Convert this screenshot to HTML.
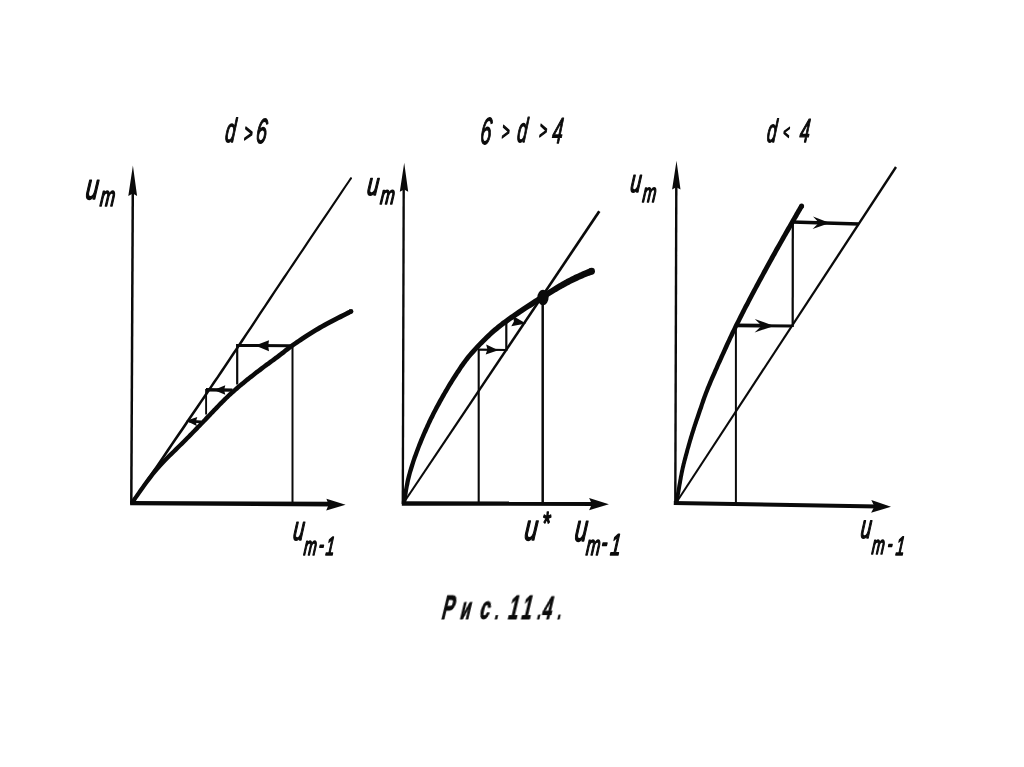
<!DOCTYPE html>
<html lang="ru"><head><meta charset="utf-8"><title>Рис. 11.4.</title>
<style>
html,body{margin:0;padding:0;background:#fff;}
body{width:1024px;height:767px;overflow:hidden;}
svg{display:block;}
svg text{font-family:"Liberation Sans",sans-serif;fill:#0a0a0a;stroke:#0a0a0a;stroke-linejoin:round;}
</style></head><body>
<svg width="1024" height="767" viewBox="0 0 1024 767">
<rect width="1024" height="767" fill="#ffffff"/>
<g stroke="#0a0a0a" fill="none" stroke-linecap="butt">
<line x1="131.3" y1="504.0" x2="132.8" y2="190.0" stroke-width="2.50" />
<polygon fill="#0a0a0a" stroke="none" points="132.9,165.5 137.1,196.0 132.8,193.6 128.3,196.0"/>
<polygon fill="#0a0a0a" stroke="none" points="130.1,501.1 333,501.8 333,506.6 130.1,505.3"/>
<polygon fill="#0a0a0a" stroke="none" points="345.6,504.8 326.2,510.5 328.6,504.7 326.4,498.7"/>
<polygon fill="#0a0a0a" stroke="none" points="133.1,503.8 135.0,501.0 137.4,497.5 140.1,493.5 143.1,489.0 146.5,484.2 150.0,479.0 153.7,473.5 157.5,467.9 161.4,462.1 165.3,456.4 169.2,450.7 173.0,445.1 176.6,439.8 180.1,434.7 183.4,429.9 186.6,425.2 189.7,420.6 192.8,416.0 195.9,411.5 199.0,406.9 202.1,402.3 205.3,397.7 208.5,393.0 211.8,388.1 215.2,383.0 218.8,377.8 222.4,372.4 226.2,366.7 230.2,360.7 234.4,354.5 238.7,348.1 243.1,341.4 247.6,334.6 252.2,327.7 256.8,320.7 261.5,313.6 266.2,306.5 270.9,299.4 275.6,292.3 280.3,285.3 284.9,278.4 289.4,271.6 294.1,264.7 298.9,257.4 304.0,249.9 309.1,242.2 314.3,234.5 319.5,226.8 324.6,219.3 329.5,211.9 334.2,205.0 338.6,198.5 342.6,192.5 346.2,187.1 349.3,182.5 351.8,178.8 350.2,177.6 347.6,181.4 344.5,186.0 340.9,191.3 336.9,197.3 332.5,203.8 327.8,210.8 322.8,218.1 317.7,225.6 312.5,233.3 307.3,241.0 302.2,248.7 297.1,256.2 292.2,263.5 287.6,270.4 283.0,277.1 278.4,284.1 273.7,291.1 269.0,298.1 264.3,305.2 259.5,312.3 254.8,319.4 250.2,326.4 245.6,333.3 241.0,340.1 236.6,346.7 232.3,353.1 228.2,359.3 224.2,365.3 220.3,371.0 216.7,376.4 213.1,381.6 209.7,386.7 206.4,391.5 203.2,396.3 200.0,400.9 196.9,405.5 193.8,410.0 190.7,414.6 187.6,419.1 184.4,423.7 181.2,428.4 177.9,433.3 174.5,438.3 170.8,443.7 167.0,449.2 163.2,454.9 159.3,460.7 155.4,466.4 151.5,472.0 147.8,477.5 144.2,482.7 140.9,487.5 137.9,492.0 135.1,496.0 132.8,499.4 130.9,502.2"/><circle fill="#0a0a0a" stroke="none" cx="351.0" cy="178.2" r="1.00"/>
<polygon fill="#0a0a0a" stroke="none" points="134.0,503.5 135.0,502.2 136.2,500.5 137.5,498.6 139.0,496.4 140.7,494.1 142.5,491.6 144.3,489.0 146.2,486.3 148.2,483.6 150.2,480.9 152.3,478.2 154.3,475.6 156.2,473.2 158.1,470.9 160.1,468.7 162.1,466.5 164.2,464.2 166.3,462.0 168.5,459.8 170.7,457.6 172.9,455.4 175.1,453.3 177.3,451.2 179.4,449.1 181.4,447.1 183.4,445.2 185.3,443.3 187.1,441.5 188.7,439.8 190.3,438.2 191.8,436.7 193.2,435.2 194.6,433.8 195.9,432.5 197.2,431.2 198.5,429.9 199.7,428.6 200.8,427.4 202.0,426.3 203.1,425.1 204.2,424.0 205.3,422.8 206.4,421.7 207.4,420.7 208.3,419.7 209.3,418.7 210.1,417.8 211.0,416.9 211.8,416.0 212.7,415.1 213.5,414.2 214.3,413.4 215.1,412.5 215.9,411.7 216.8,410.8 217.7,409.9 218.6,408.9 219.5,408.0 220.4,407.1 221.3,406.1 222.2,405.2 223.2,404.3 224.1,403.3 225.0,402.4 225.9,401.5 226.9,400.5 227.8,399.6 228.8,398.7 229.7,397.8 230.7,396.8 231.7,395.9 232.7,395.0 233.8,394.1 234.8,393.2 235.8,392.2 236.9,391.3 238.0,390.4 239.0,389.5 240.1,388.6 241.2,387.6 242.3,386.7 243.4,385.8 244.5,384.9 245.6,384.0 246.8,383.0 247.9,382.1 249.1,381.2 250.2,380.2 251.4,379.3 252.6,378.4 253.8,377.4 255.0,376.5 256.2,375.6 257.4,374.6 258.6,373.7 259.8,372.8 261.1,371.9 262.3,370.9 263.5,370.0 264.7,369.1 266.0,368.1 267.2,367.2 268.5,366.3 269.8,365.4 271.0,364.4 272.3,363.5 273.6,362.6 274.9,361.7 276.1,360.7 277.4,359.8 278.6,358.9 279.9,357.9 281.1,357.0 282.3,356.1 283.4,355.2 284.5,354.4 285.6,353.5 286.7,352.6 287.8,351.8 288.9,350.9 290.1,350.0 291.3,349.1 292.5,348.2 293.8,347.2 295.2,346.2 296.7,345.2 298.3,344.2 300.0,343.0 301.7,341.9 303.5,340.7 305.4,339.5 307.3,338.3 309.2,337.0 311.2,335.8 313.2,334.5 315.2,333.3 317.2,332.1 319.2,330.9 321.2,329.7 323.2,328.6 325.2,327.4 327.4,326.2 329.7,325.0 332.1,323.7 334.5,322.5 336.9,321.2 339.2,320.0 341.6,318.9 343.8,317.7 345.8,316.7 347.7,315.7 349.4,314.9 350.9,314.1 352.1,313.5 349.9,309.3 348.7,309.9 347.3,310.6 345.6,311.5 343.7,312.4 341.6,313.5 339.4,314.6 337.1,315.8 334.7,317.0 332.3,318.3 329.9,319.5 327.5,320.8 325.1,322.0 322.9,323.3 320.8,324.4 318.8,325.6 316.8,326.8 314.7,328.0 312.7,329.3 310.7,330.5 308.7,331.8 306.7,333.1 304.7,334.3 302.8,335.6 300.9,336.8 299.1,338.0 297.4,339.2 295.7,340.3 294.1,341.4 292.6,342.4 291.1,343.4 289.8,344.4 288.5,345.4 287.3,346.3 286.1,347.2 285.0,348.1 283.8,349.0 282.7,349.9 281.7,350.7 280.6,351.6 279.4,352.5 278.3,353.3 277.1,354.3 275.9,355.2 274.6,356.1 273.4,357.0 272.1,357.9 270.9,358.9 269.6,359.8 268.3,360.7 267.1,361.7 265.8,362.6 264.5,363.5 263.3,364.5 262.0,365.4 260.8,366.3 259.5,367.3 258.3,368.2 257.1,369.2 255.8,370.1 254.6,371.0 253.4,372.0 252.2,372.9 251.0,373.9 249.8,374.8 248.6,375.7 247.4,376.7 246.2,377.6 245.1,378.6 243.9,379.5 242.8,380.4 241.6,381.4 240.5,382.3 239.4,383.3 238.3,384.2 237.2,385.1 236.1,386.1 235.0,387.0 233.9,387.9 232.9,388.9 231.8,389.8 230.8,390.7 229.7,391.7 228.7,392.6 227.7,393.6 226.7,394.5 225.7,395.4 224.7,396.4 223.7,397.3 222.8,398.3 221.8,399.2 220.9,400.2 220.0,401.1 219.0,402.1 218.1,403.0 217.2,403.9 216.3,404.9 215.4,405.8 214.5,406.7 213.6,407.7 212.7,408.6 211.9,409.5 211.1,410.3 210.2,411.2 209.4,412.1 208.6,412.9 207.8,413.8 206.9,414.7 206.0,415.6 205.1,416.6 204.2,417.6 203.2,418.7 202.1,419.8 201.0,420.9 199.9,422.0 198.8,423.2 197.7,424.4 196.5,425.6 195.3,426.8 194.1,428.1 192.8,429.4 191.5,430.8 190.1,432.2 188.7,433.6 187.2,435.2 185.6,436.8 183.9,438.5 182.2,440.2 180.4,442.1 178.4,444.0 176.3,446.0 174.2,448.0 172.1,450.2 169.9,452.3 167.6,454.5 165.4,456.8 163.2,459.0 161.0,461.3 158.9,463.6 156.8,465.8 154.9,468.1 152.9,470.5 150.9,473.0 148.9,475.6 146.8,478.3 144.8,481.1 142.8,483.8 140.9,486.5 139.0,489.1 137.2,491.7 135.6,494.0 134.1,496.2 132.7,498.1 131.6,499.7 130.6,501.1"/><circle fill="#0a0a0a" stroke="none" cx="351.0" cy="311.4" r="2.40"/>
<line x1="292.5" y1="345.0" x2="292.5" y2="503.0" stroke-width="2.00" />
<line x1="236.5" y1="345.5" x2="291.0" y2="345.7" stroke-width="3.10" />
<polygon fill="#0a0a0a" stroke="none" points="255.2,345.6 269.0,340.2 268.2,345.7 269.0,351.2"/>
<line x1="237.2" y1="344.0" x2="237.2" y2="384.5" stroke-width="2.20" />
<line x1="206.0" y1="389.8" x2="232.5" y2="390.1" stroke-width="3.40" />
<polygon fill="#0a0a0a" stroke="none" points="213.8,389.9 225.3,385.3 224.1,390.0 225.3,394.7"/>
<line x1="206.1" y1="389.0" x2="206.1" y2="414.5" stroke-width="1.90" />
<line x1="189.0" y1="421.2" x2="201.0" y2="421.8" stroke-width="2.80" />
<polygon fill="#0a0a0a" stroke="none" points="186.2,420.8 197.3,417.0 195.9,421.5 196.7,426.1"/>
<line x1="402.8" y1="504.0" x2="403.7" y2="188.0" stroke-width="2.35" />
<polygon fill="#0a0a0a" stroke="none" points="404.2,162.8 408.2,191.8 404.1,189.5 399.8,191.8"/>
<line x1="401.8" y1="503.5" x2="596.0" y2="503.8" stroke-width="4.40" />
<polygon fill="#0a0a0a" stroke="none" points="608.9,504.2 589.1,510.2 591.9,504.1 589.1,498.0"/>
<polygon fill="#0a0a0a" stroke="none" points="404.33,503.56 600.44,211.97 598.16,210.43 402.67,502.44"/>
<polygon fill="#0a0a0a" stroke="none" points="406.1,502.4 406.3,501.3 406.5,500.0 406.8,498.5 407.0,496.8 407.4,494.9 407.7,492.9 408.0,490.9 408.4,488.7 408.8,486.6 409.3,484.4 409.7,482.2 410.2,480.1 410.7,478.0 411.2,476.0 411.7,474.1 412.3,472.1 412.9,470.2 413.5,468.2 414.1,466.2 414.8,464.1 415.4,462.1 416.1,460.1 416.8,458.1 417.6,456.1 418.3,454.0 419.0,452.0 419.8,450.1 420.5,448.1 421.3,446.1 422.1,444.2 422.9,442.2 423.7,440.2 424.5,438.2 425.4,436.3 426.2,434.3 427.1,432.4 428.0,430.5 428.8,428.6 429.7,426.7 430.5,424.8 431.4,423.0 432.2,421.3 433.0,419.5 433.9,417.9 434.7,416.2 435.5,414.6 436.3,413.1 437.1,411.5 437.9,410.0 438.7,408.5 439.5,406.9 440.4,405.4 441.2,403.9 442.1,402.3 443.0,400.7 443.9,399.1 444.8,397.5 445.8,395.8 446.7,394.1 447.7,392.5 448.7,390.8 449.7,389.0 450.7,387.3 451.8,385.6 452.8,384.0 453.8,382.3 454.9,380.6 455.9,379.0 456.9,377.4 457.9,375.9 458.9,374.3 459.9,372.9 460.9,371.4 461.8,370.0 462.7,368.6 463.7,367.2 464.6,365.9 465.6,364.5 466.6,363.2 467.6,361.8 468.7,360.4 469.8,359.0 471.0,357.6 472.3,356.1 473.7,354.5 475.1,352.9 476.6,351.3 478.2,349.6 479.8,347.9 481.5,346.1 483.2,344.4 484.9,342.7 486.7,341.0 488.4,339.3 490.1,337.7 491.8,336.1 493.5,334.6 495.2,333.1 496.8,331.7 498.4,330.4 500.1,329.1 501.7,327.8 503.3,326.6 505.0,325.3 506.6,324.2 508.3,323.0 509.9,321.8 511.6,320.6 513.3,319.5 515.0,318.3 516.7,317.1 518.4,315.9 520.2,314.7 522.0,313.5 523.9,312.3 525.7,311.1 527.6,309.8 529.6,308.6 531.5,307.4 533.4,306.2 535.2,305.0 537.1,303.9 538.9,302.8 540.6,301.7 542.3,300.6 543.9,299.6 545.4,298.7 546.8,297.8 548.2,296.9 549.6,296.1 550.9,295.3 552.1,294.5 553.3,293.8 554.5,293.1 555.7,292.3 556.9,291.7 558.0,291.0 559.2,290.3 560.4,289.6 561.5,289.0 562.7,288.3 563.9,287.7 565.0,287.0 566.1,286.4 567.2,285.8 568.3,285.2 569.4,284.7 570.5,284.1 571.5,283.6 572.6,283.0 573.7,282.5 574.8,281.9 575.9,281.4 577.0,280.9 578.1,280.4 579.3,279.8 580.6,279.3 581.9,278.7 583.2,278.2 584.5,277.6 585.8,277.1 587.1,276.6 588.3,276.1 589.4,275.7 590.5,275.3 591.4,274.9 592.2,274.6 592.9,274.3 590.3,268.1 589.7,268.4 588.9,268.7 588.0,269.1 586.9,269.5 585.8,270.0 584.6,270.5 583.3,271.0 582.0,271.6 580.7,272.2 579.3,272.8 578.0,273.4 576.7,273.9 575.4,274.5 574.2,275.1 573.1,275.7 572.0,276.2 570.8,276.8 569.7,277.4 568.6,277.9 567.5,278.5 566.4,279.1 565.3,279.7 564.2,280.3 563.1,281.0 562.0,281.6 560.8,282.3 559.6,283.0 558.5,283.6 557.3,284.3 556.1,285.0 554.9,285.8 553.8,286.5 552.6,287.2 551.4,287.9 550.2,288.7 549.0,289.5 547.7,290.3 546.4,291.1 545.1,292.0 543.7,292.9 542.2,293.8 540.7,294.8 539.2,295.8 537.5,296.8 535.8,297.9 534.0,299.1 532.2,300.3 530.3,301.5 528.4,302.7 526.5,303.9 524.6,305.2 522.7,306.4 520.8,307.7 519.0,309.0 517.1,310.2 515.4,311.5 513.6,312.7 511.9,313.9 510.2,315.1 508.5,316.3 506.8,317.5 505.2,318.7 503.5,319.9 501.8,321.1 500.2,322.4 498.5,323.7 496.8,325.0 495.2,326.4 493.5,327.8 491.8,329.3 490.1,330.8 488.4,332.4 486.7,334.0 484.9,335.7 483.2,337.4 481.4,339.2 479.7,341.0 478.0,342.7 476.3,344.5 474.7,346.2 473.1,348.0 471.5,349.7 470.1,351.3 468.7,352.9 467.4,354.5 466.1,356.0 465.0,357.5 463.9,359.0 462.8,360.4 461.8,361.8 460.8,363.2 459.8,364.6 458.9,366.0 457.9,367.4 457.0,368.9 456.0,370.3 455.1,371.8 454.1,373.3 453.0,374.9 452.0,376.5 450.9,378.2 449.9,379.9 448.9,381.6 447.8,383.3 446.8,385.0 445.8,386.7 444.8,388.4 443.8,390.1 442.8,391.9 441.8,393.5 440.8,395.2 439.9,396.9 439.0,398.5 438.1,400.1 437.2,401.7 436.4,403.2 435.6,404.8 434.7,406.3 433.9,407.9 433.1,409.4 432.3,411.0 431.5,412.6 430.7,414.2 429.8,415.9 429.0,417.6 428.2,419.3 427.3,421.1 426.5,423.0 425.6,424.8 424.8,426.7 423.9,428.6 423.0,430.6 422.2,432.5 421.3,434.5 420.5,436.5 419.6,438.5 418.8,440.5 418.0,442.5 417.2,444.5 416.5,446.5 415.7,448.5 415.0,450.5 414.2,452.5 413.5,454.6 412.7,456.6 412.0,458.7 411.3,460.7 410.7,462.8 410.0,464.8 409.3,466.9 408.7,468.9 408.1,471.0 407.6,473.0 407.0,475.0 406.5,477.0 406.0,479.1 405.5,481.3 405.1,483.6 404.7,485.8 404.3,488.0 403.9,490.1 403.5,492.2 403.2,494.2 402.9,496.1 402.6,497.8 402.3,499.3 402.1,500.6 401.9,501.6"/><circle fill="#0a0a0a" stroke="none" cx="591.6" cy="271.2" r="3.35"/>
<ellipse fill="#0a0a0a" stroke="none" cx="543" cy="297.5" rx="5.6" ry="7.8"/>
<line x1="542.7" y1="297.0" x2="542.7" y2="503.0" stroke-width="2.50" />
<line x1="478.7" y1="349.0" x2="478.7" y2="503.0" stroke-width="2.10" />
<line x1="478.0" y1="349.6" x2="506.5" y2="350.0" stroke-width="2.20" />
<polygon fill="#0a0a0a" stroke="none" points="498.3,350.2 485.7,354.6 487.4,349.6 486.2,344.5"/>
<line x1="506.3" y1="321.0" x2="506.3" y2="351.0" stroke-width="2.20" />
<polygon fill="#0a0a0a" stroke="none" points="526.0,323.6 511.3,326.3 513.9,321.5 513.1,316.0"/>
<line x1="675.3" y1="503.5" x2="676.3" y2="186.0" stroke-width="2.40" />
<polygon fill="#0a0a0a" stroke="none" points="676.5,160.8 680.5,189.6 676.3,187.3 672.1,189.6"/>
<line x1="673.8" y1="503.0" x2="878.0" y2="506.5" stroke-width="4.10" />
<polygon fill="#0a0a0a" stroke="none" points="891.0,506.8 871.1,512.8 874.4,506.5 871.3,500.0"/>
<polygon fill="#0a0a0a" stroke="none" points="676.84,503.55 897.00,167.66 895.00,166.34 675.16,502.45"/>
<polygon fill="#0a0a0a" stroke="none" points="678.2,502.7 678.2,502.5 678.3,502.3 678.3,502.2 678.4,502.0 678.4,501.7 678.5,501.4 678.6,501.1 678.7,500.7 678.8,500.3 678.9,499.7 679.0,499.1 679.2,498.3 679.3,497.4 679.5,496.4 679.8,495.1 680.0,493.7 680.3,492.2 680.6,490.5 680.9,488.7 681.2,486.8 681.5,484.9 681.9,482.9 682.2,480.9 682.6,478.9 682.9,477.0 683.3,475.2 683.6,473.4 684.0,471.8 684.3,470.3 684.6,468.8 685.0,467.3 685.3,465.9 685.6,464.5 686.0,463.2 686.3,461.8 686.7,460.5 687.0,459.2 687.4,457.9 687.7,456.5 688.1,455.2 688.5,453.8 688.9,452.4 689.2,451.0 689.6,449.6 690.0,448.3 690.4,446.9 690.8,445.5 691.2,444.1 691.6,442.7 692.0,441.3 692.4,439.9 692.9,438.5 693.3,437.1 693.7,435.7 694.1,434.3 694.6,432.9 695.0,431.5 695.5,430.2 695.9,428.8 696.3,427.5 696.8,426.1 697.2,424.8 697.7,423.4 698.1,422.1 698.6,420.7 699.1,419.3 699.6,417.9 700.1,416.4 700.6,415.0 701.1,413.5 701.6,412.0 702.1,410.4 702.7,408.9 703.2,407.4 703.7,405.8 704.2,404.2 704.8,402.7 705.4,401.0 705.9,399.4 706.5,397.8 707.2,396.1 707.8,394.3 708.5,392.6 709.2,390.8 709.9,389.0 710.7,387.1 711.5,385.2 712.3,383.3 713.1,381.3 714.0,379.3 714.9,377.3 715.8,375.2 716.7,373.2 717.6,371.1 718.6,368.9 719.5,366.8 720.5,364.6 721.5,362.4 722.5,360.2 723.5,357.9 724.6,355.6 725.7,353.2 726.8,350.8 727.9,348.4 729.0,346.0 730.1,343.5 731.3,341.1 732.4,338.6 733.6,336.2 734.7,333.8 735.9,331.4 737.0,329.0 738.2,326.6 739.4,324.3 740.6,321.9 741.8,319.5 743.0,317.2 744.2,314.8 745.4,312.4 746.6,310.1 747.8,307.7 749.1,305.4 750.3,303.0 751.5,300.7 752.7,298.4 754.0,296.1 755.2,293.8 756.4,291.4 757.7,289.1 759.0,286.7 760.2,284.4 761.5,282.0 762.8,279.7 764.0,277.4 765.3,275.1 766.5,272.9 767.7,270.7 768.9,268.6 770.0,266.5 771.1,264.5 772.2,262.6 773.2,260.7 774.2,258.9 775.2,257.1 776.2,255.4 777.1,253.7 778.0,252.1 778.9,250.4 779.8,248.9 780.7,247.3 781.6,245.8 782.4,244.3 783.3,242.8 784.1,241.3 784.9,239.9 785.7,238.5 786.5,237.1 787.3,235.8 788.0,234.5 788.7,233.2 789.5,232.0 790.2,230.8 790.9,229.5 791.6,228.3 792.2,227.1 792.9,225.9 793.6,224.7 794.3,223.5 795.1,222.3 795.8,221.0 796.6,219.6 797.4,218.3 798.2,216.9 798.9,215.6 799.7,214.3 800.4,213.0 801.1,211.8 801.8,210.7 802.4,209.6 802.9,208.7 803.4,207.9 803.8,207.2 799.4,204.8 799.1,205.4 798.6,206.2 798.1,207.1 797.5,208.2 796.8,209.3 796.1,210.5 795.4,211.8 794.6,213.1 793.9,214.5 793.1,215.8 792.3,217.2 791.5,218.5 790.8,219.8 790.1,221.1 789.4,222.3 788.7,223.5 788.0,224.7 787.3,225.9 786.6,227.1 785.9,228.3 785.2,229.5 784.5,230.8 783.8,232.1 783.0,233.4 782.3,234.7 781.5,236.1 780.7,237.5 779.9,238.9 779.1,240.4 778.2,241.9 777.4,243.4 776.5,244.9 775.6,246.5 774.7,248.1 773.8,249.7 772.9,251.4 772.0,253.1 771.0,254.8 770.0,256.6 769.0,258.4 768.0,260.3 766.9,262.3 765.8,264.3 764.7,266.3 763.5,268.5 762.3,270.6 761.1,272.9 759.9,275.2 758.6,277.5 757.4,279.8 756.1,282.2 754.8,284.5 753.6,286.9 752.3,289.2 751.1,291.6 749.8,293.9 748.6,296.2 747.4,298.6 746.2,300.9 745.0,303.2 743.7,305.6 742.5,308.0 741.3,310.3 740.1,312.7 738.9,315.1 737.7,317.5 736.5,319.9 735.3,322.2 734.1,324.6 733.0,327.0 731.8,329.4 730.6,331.8 729.5,334.3 728.3,336.7 727.2,339.2 726.1,341.6 724.9,344.1 723.8,346.5 722.7,349.0 721.6,351.4 720.6,353.7 719.5,356.1 718.5,358.4 717.5,360.6 716.5,362.8 715.5,365.0 714.6,367.2 713.6,369.3 712.7,371.4 711.8,373.5 710.9,375.6 710.0,377.6 709.2,379.6 708.3,381.6 707.5,383.5 706.7,385.5 705.9,387.3 705.2,389.2 704.5,391.0 703.8,392.8 703.2,394.6 702.5,396.3 701.9,398.0 701.3,399.6 700.8,401.3 700.2,402.9 699.7,404.5 699.2,406.0 698.7,407.6 698.1,409.1 697.6,410.6 697.1,412.1 696.6,413.6 696.1,415.1 695.6,416.5 695.1,417.9 694.6,419.3 694.2,420.7 693.7,422.1 693.3,423.4 692.8,424.8 692.4,426.2 691.9,427.5 691.5,428.9 691.1,430.3 690.6,431.7 690.2,433.1 689.8,434.5 689.3,435.9 688.9,437.3 688.5,438.7 688.1,440.1 687.7,441.5 687.3,442.9 686.9,444.3 686.5,445.7 686.1,447.2 685.7,448.6 685.3,450.0 684.9,451.4 684.6,452.8 684.2,454.1 683.8,455.5 683.5,456.8 683.1,458.1 682.8,459.5 682.4,460.8 682.1,462.2 681.7,463.6 681.4,465.0 681.0,466.4 680.7,467.9 680.4,469.4 680.0,471.0 679.7,472.7 679.4,474.4 679.0,476.3 678.7,478.2 678.3,480.2 678.0,482.2 677.6,484.2 677.3,486.1 677.0,488.0 676.7,489.8 676.4,491.5 676.1,493.1 675.9,494.5 675.7,495.6 675.5,496.7 675.3,497.5 675.2,498.3 675.0,498.9 674.9,499.5 674.8,499.9 674.8,500.3 674.7,500.6 674.6,500.8 674.6,501.0 674.5,501.2 674.5,501.4 674.4,501.7 674.4,501.9"/><circle fill="#0a0a0a" stroke="none" cx="801.6" cy="206.0" r="2.50"/>
<line x1="735.9" y1="325.0" x2="735.9" y2="503.5" stroke-width="2.00" />
<line x1="735.5" y1="325.4" x2="760.0" y2="325.6" stroke-width="3.60" />
<line x1="759.0" y1="325.6" x2="791.8" y2="326.0" stroke-width="3.00" />
<polygon fill="#0a0a0a" stroke="none" points="774.2,325.9 754.6,332.4 761.7,325.8 754.8,319.0"/>
<line x1="792.8" y1="221.5" x2="792.7" y2="327.0" stroke-width="2.25" />
<line x1="792.0" y1="222.0" x2="858.8" y2="223.9" stroke-width="3.50" />
<polygon fill="#0a0a0a" stroke="none" points="829.8,223.1 812.6,228.9 818.9,222.8 813.0,216.5"/>
</g>
<g opacity="0.999">
<text transform="translate(0 143.00) skewX(-6) scale(0.5580 1)" font-style="italic" font-weight="normal" stroke-width="1.4"><tspan x="402.05" y="-1.03" font-size="33.53">d</tspan><tspan x="435.92" y="-1.15" font-size="25.96">&gt;</tspan><tspan x="457.29" y="-0.37" font-size="34.71">6</tspan></text>
<text transform="translate(0 145.00) skewX(-6) scale(0.5188 1)" font-style="italic" font-weight="normal" stroke-width="1.4"><tspan x="923.81" y="-1.07" font-size="37.62">6</tspan><tspan x="964.51" y="-5.45" font-size="25.48">&gt;</tspan><tspan x="994.78" y="-3.04" font-size="34.34">d</tspan><tspan x="1036.66" y="-5.56" font-size="25.69">&gt;</tspan><tspan x="1062.72" y="-2.01" font-size="36.10">4</tspan></text>
<text transform="translate(0 142.80) skewX(-6) scale(0.5403 1)" font-style="italic" font-weight="normal" stroke-width="1.4"><tspan x="1418.02" y="-0.99" font-size="32.28">d</tspan><tspan x="1447.69" y="-3.63" font-size="20.24">&lt;</tspan><tspan x="1478.84" y="-0.48" font-size="33.19">4</tspan></text>
<text transform="translate(0 199.80) skewX(-6) scale(0.6417 1)" font-style="italic" font-weight="normal" stroke-width="1.6"><tspan x="132.39" y="-1.26" font-size="35.42">u</tspan><tspan x="156.17" y="6.21" font-size="27.68">m</tspan></text>
<text transform="translate(0 195.70) skewX(-6) scale(0.6664 1)" font-style="italic" font-weight="normal" stroke-width="1.6"><tspan x="549.76" y="-1.05" font-size="31.37">u</tspan><tspan x="571.22" y="7.81" font-size="25.67">m</tspan></text>
<text transform="translate(0 193.00) skewX(-6) scale(0.6117 1)" font-style="italic" font-weight="normal" stroke-width="1.6"><tspan x="1029.40" y="-1.02" font-size="31.42">u</tspan><tspan x="1051.17" y="9.01" font-size="26.58">m</tspan></text>
<text transform="translate(0 541.00) skewX(-6) scale(0.5931 1)" font-style="italic" font-weight="normal" stroke-width="1.6"><tspan x="493.20" y="-1.11" font-size="33.51">u</tspan><tspan x="513.58" y="13.66" font-size="25.84">m</tspan><tspan x="538.76" y="11.74" font-size="25.20">-</tspan><tspan x="550.92" y="14.15" font-size="26.04">1</tspan></text>
<text transform="translate(0 541.30) skewX(-6) scale(0.6545 1)" font-style="italic" font-weight="normal" stroke-width="1.6"><tspan x="800.21" y="-1.26" font-size="35.97">u</tspan><tspan x="824.58" y="-6.97" font-size="32.01">*</tspan></text>
<text transform="translate(0 541.90) skewX(-6) scale(0.6102 1)" font-style="italic" font-weight="normal" stroke-width="1.6"><tspan x="940.59" y="-1.21" font-size="37.14">u</tspan><tspan x="961.78" y="12.76" font-size="27.66">m</tspan><tspan x="986.16" y="10.40" font-size="29.09">-</tspan><tspan x="1001.47" y="13.43" font-size="30.15">1</tspan></text>
<text transform="translate(0 539.70) skewX(-6) scale(0.5890 1)" font-style="italic" font-weight="normal" stroke-width="1.6"><tspan x="1459.71" y="-1.29" font-size="32.49">u</tspan><tspan x="1481.88" y="13.80" font-size="25.91">m</tspan><tspan x="1508.01" y="12.00" font-size="24.70">-</tspan><tspan x="1522.69" y="15.30" font-size="26.33">1</tspan></text>
<text transform="translate(0 619.90) skewX(-13.5) scale(0.5376 1)" font-style="normal" font-weight="bold" stroke-width="1"><tspan x="818.99" y="-0.47" font-size="33.42">Р</tspan><tspan x="853.68" y="-1.27" font-size="30.40">и</tspan><tspan x="889.46" y="-0.81" font-size="33.17">с</tspan><tspan x="918.96" y="-0.47" font-size="24.07">. </tspan><tspan x="942.75" y="-1.27" font-size="33.29">1</tspan><tspan x="967.45" y="-1.27" font-size="33.26">1</tspan><tspan x="997.51" y="-0.47" font-size="24.64">.</tspan><tspan x="1006.06" y="-1.27" font-size="31.46">4</tspan><tspan x="1035.22" y="-0.47" font-size="24.36">.</tspan></text>
</g>
</svg>
</body></html>
